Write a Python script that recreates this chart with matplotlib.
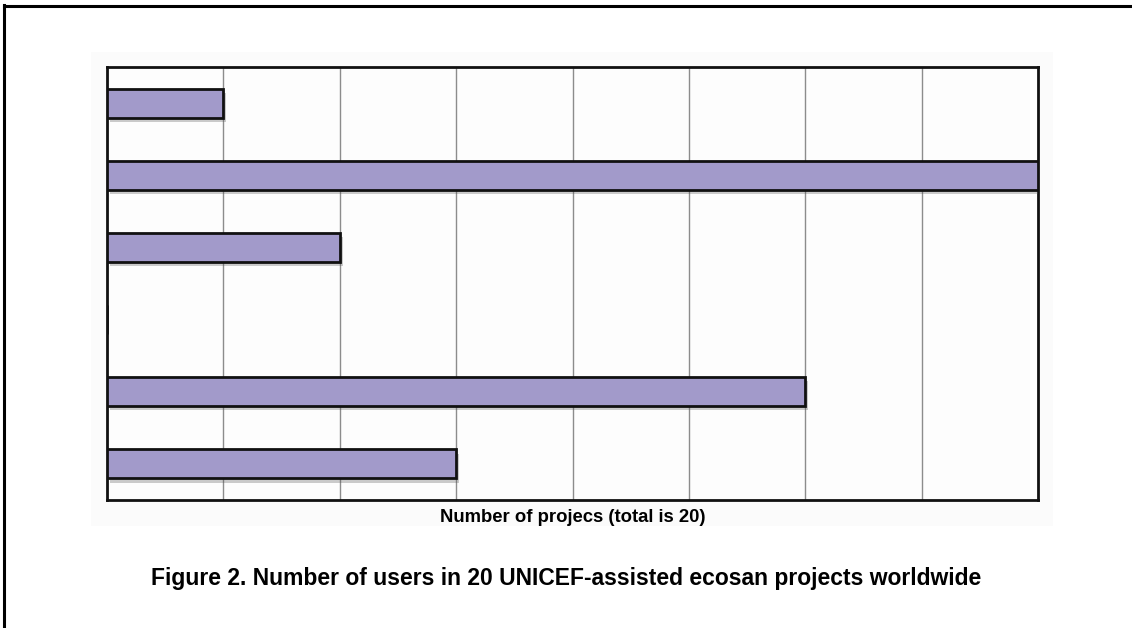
import matplotlib
matplotlib.use("Agg")
import matplotlib.pyplot as plt
import matplotlib.patheffects as pe
from matplotlib.patches import Rectangle
from matplotlib.lines import Line2D

# Data (top to bottom); one slot is empty
slots = [1, 2, 3, 4, 5, 6]
projects = [1, 8, 2, 0, 6, 3]
x_max = 8
grid_ticks = [1, 2, 3, 4, 5, 6, 7]
xlabel = "Number of projecs (total is 20)"
caption = "Figure 2. Number of users in 20 UNICEF-assisted ecosan projects worldwide"

plt.rcParams['font.family'] = ['Liberation Sans', 'DejaVu Sans']

W, H = 1132, 628
fig = plt.figure(figsize=(W / 100, H / 100), dpi=100)
fig.patch.set_facecolor('white')

# outer page frame (left and top only visible)
fig.add_artist(Line2D([4 / W, 4 / W], [0, 1 - 5 / H], color='black', lw=2.2, transform=fig.transFigure))
fig.add_artist(Line2D([4 / W, 1], [1 - 6 / H, 1 - 6 / H], color='black', lw=2.2, transform=fig.transFigure))

# subtle chart panel
fig.add_artist(Rectangle((91 / W, 1 - 526 / H), (1053 - 91) / W, (526 - 52) / H,
                         transform=fig.transFigure, facecolor='#fbfbfb', edgecolor='none', zorder=0))

ax = fig.add_axes([107 / W, 1 - 500 / H, (1038 - 107) / W, (500 - 67) / H])
ax.set_facecolor('#fdfdfd')

bars = ax.barh(slots, projects, height=0.4, color='#a29aca', edgecolor='#111111', linewidth=2.0, zorder=3)
for b in bars:
    b.set_path_effects([pe.SimplePatchShadow(offset=(2, -3), shadow_rgbFace='#555555', alpha=0.3), pe.Normal()])

ax.set_xlim(0, x_max)
ax.set_ylim(6.5, 0.5)
ax.set_xticks(grid_ticks)
ax.set_yticks([])
ax.tick_params(axis='x', length=0, labelbottom=False)
ax.grid(axis='x', color='#8c8c8c', lw=1.0, zorder=1)
for s in ax.spines.values():
    s.set_linewidth(2.0)
    s.set_color('#111111')

fig.text(573 / W, 1 - 517 / H, xlabel, ha='center', va='center', fontsize=13.3, fontweight='bold')
fig.text(566 / W, 1 - 579 / H, caption, ha='center', va='center', fontsize=16.5, fontweight='bold')

fig.savefig('out.png', dpi=100)
